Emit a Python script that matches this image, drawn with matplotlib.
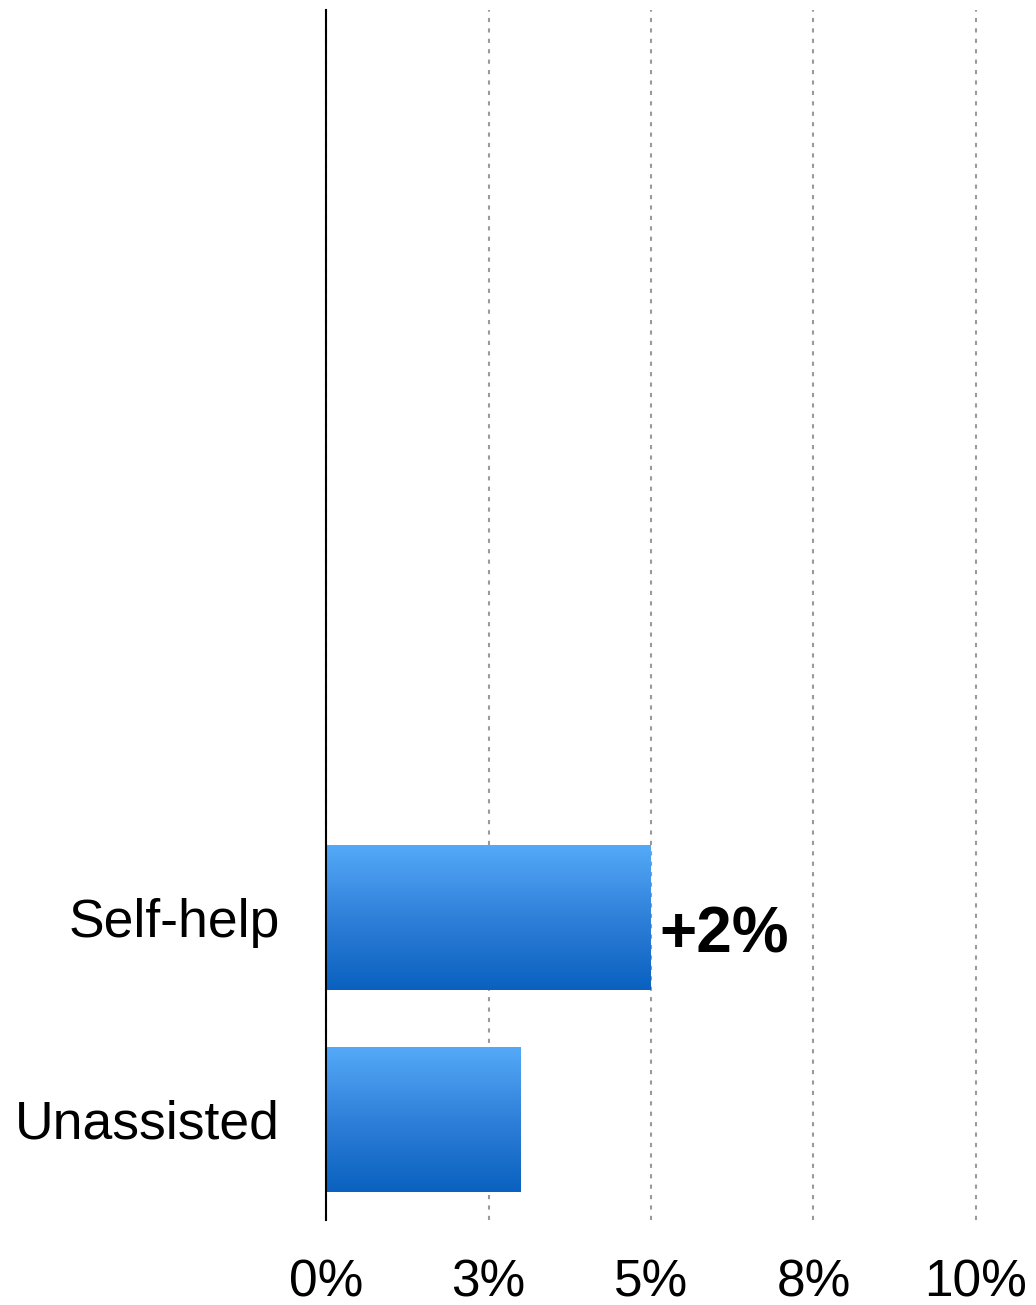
import numpy as np
import matplotlib
matplotlib.use("Agg")
import matplotlib.pyplot as plt
from matplotlib.colors import LinearSegmentedColormap

# share of visitors by support channel (%)
categories = ["Unassisted", "Self-help"]
values = [3.0, 5.0]
empty_slots = 4  # unused category rows kept above the bars

x_ticks = [0, 2.5, 5, 7.5, 10]
x_tick_labels = ["0%", "3%", "5%", "8%", "10%"]

plt.rcParams["font.family"] = ["Liberation Sans", "DejaVu Sans"]

fig = plt.figure(figsize=(10.36, 13.05), dpi=100)
ax = fig.add_axes([326 / 1036, 1 - 1220 / 1305, 650 / 1036, 1210 / 1305])

ypos = np.arange(len(categories))
bars = ax.barh(ypos, values, height=0.72, color="none", edgecolor="none", zorder=3)

# vertical gradient fill: light blue at top, deep blue at bottom
grad_cmap = LinearSegmentedColormap.from_list("bar_grad", ["#0a61bf", "#2f80d9", "#55aaf8"])
grad = np.linspace(0, 1, 256).reshape(-1, 1)
for bar in bars:
    x0, y0 = bar.get_x(), bar.get_y()
    w, h = bar.get_width(), bar.get_height()
    im = ax.imshow(grad, cmap=grad_cmap, aspect="auto", origin="lower",
                   extent=(x0, x0 + w, y0, y0 + h), zorder=3, interpolation="bilinear")
    im.set_clip_path(bar)

ax.set_xlim(0, 10)
ax.set_ylim(-0.5, len(categories) - 0.5 + empty_slots)

ax.set_xticks(x_ticks)
ax.set_xticklabels(x_tick_labels, fontsize=37)
ax.set_yticks(ypos)
ax.set_yticklabels(categories, fontsize=38.5)
ax.tick_params(axis="x", length=0, pad=28)
ax.tick_params(axis="y", length=0, pad=33)

ax.grid(axis="x", color="#9a9a9a", linestyle=(0, (2, 3)), linewidth=1.5, zorder=1)
ax.set_axisbelow(True)
for gl in ax.get_xgridlines():
    gl.set_clip_on(False)

for side in ["top", "right", "bottom"]:
    ax.spines[side].set_visible(False)
ax.spines["left"].set_linewidth(1.5)
ax.spines["left"].set_color("black")
ax.spines["left"].set_zorder(4)

# difference label next to the self-help bar
diff = values[1] - values[0]
ax.annotate(f"+{diff:.0f}%", xy=(values[1], ypos[1]), xytext=(8, -18),
            textcoords="offset pixels", ha="left", va="center",
            fontsize=46, fontweight="bold", color="black")

fig.savefig("out.png", dpi=100)
